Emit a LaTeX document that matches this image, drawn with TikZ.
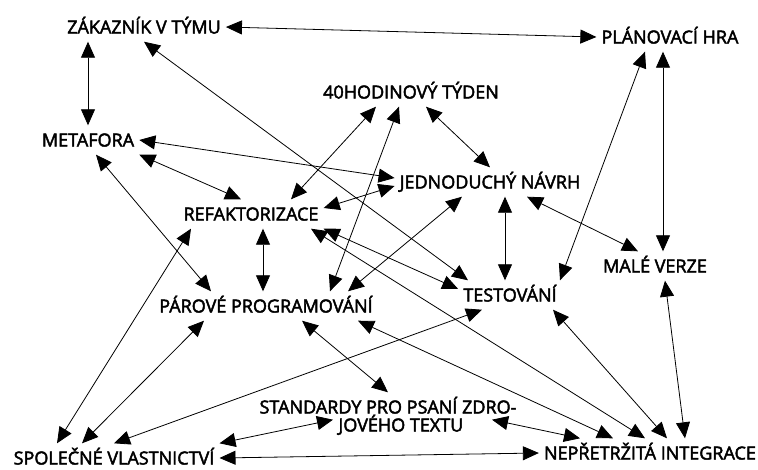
\documentclass[tikz,border=0pt]{standalone}
\usepackage{fontspec}
\setmainfont{Open Sans}[FakeBold=2.5]
\usetikzlibrary{arrows.meta}
\tikzset{ c/.style = { rectangle
                     , inner xsep   = 5pt
                     , inner ysep   = 8pt
                     , text height  = 13pt
                     , text depth   = 0pt
                     , font = \fontsize{18}{18}\selectfont
                     },
          a/.style = { <->
                     , >={Triangle[length=16pt, width=14pt]}
                     , line width = 0.8pt
                     }
        }
\begin{document}
\begin{tikzpicture}[x=1pt, y=-1pt]
            \useasboundingbox (0,0) rectangle (758,469);
            \node[c] (zak)   at (144,27)  {ZÁKAZNÍK V TÝMU};
            \node[c] (plan)  at (670,37)  {PLÁNOVACÍ HRA};
            \node[c] (hod)   at (411,92)  {40HODINOVÝ TÝDEN};
            \node[c] (meta)  at (88,140)  {METAFORA};
            \node[c] (jedn)  at (490,182) {JEDNODUCHÝ NÁVRH};
            \node[c] (refak) at (251,214) {REFAKTORIZACE};
            \node[c] (male)  at (655,266) {MALÉ VERZE};
            \node[c] (test)  at (510,295) {TESTOVÁNÍ};
            \node[c] (par)   at (266,306) {PÁROVÉ PROGRAMOVÁNÍ};
            \node[c, align=left, text height=31pt] (std) at (388,416) {STANDARDY PRO PSANÍ ZDRO-\\\hspace*{79pt}JOVÉHO TEXTU};
            \node[c] (spol)  at (114,458) {SPOLEČNÉ VLASTNICTVÍ};
            \node[c] (nep)   at (650,453) {NEPŘETRŽITÁ INTEGRACE};
            % vazby mezi postupy
            \draw[a] (zak.east) -- (plan.west);
            \draw[a] (zak.south -| meta) -- (meta.north);
            \draw[a] (zak.south) -- ([xshift=-42pt]test.north);
            \draw[a] (meta.east) -- ([yshift=4pt]jedn.west);
            \draw[a] (meta.south east) -- ([xshift=-10pt]refak.north);
            \draw[a] ([xshift=8pt]meta.south) -- ([xshift=-55pt]par.north);
            \draw[a] ([xshift=-35pt]hod.south) -- ([xshift=40pt]refak.north);
            \draw[a] ([xshift=-12pt]hod.south) -- ([xshift=64pt]par.north);
            \draw[a] ([xshift=15pt]hod.south) -- (jedn.north);
            \draw[a] ([yshift=-4pt]jedn.west) -- ([yshift=6pt]refak.east);
            \draw[a] ([xshift=-28pt]jedn.south) -- ([xshift=82pt]par.north);
            \draw[a] ([xshift=15pt]jedn.south) -- ([xshift=-5pt]test.north);
            \draw[a] ([xshift=37pt]jedn.south) -- ([xshift=-17pt]male.north);
            \draw[a] ([xshift=-7pt]plan.south) -- ([xshift=8pt]male.north);
            \draw[a] ([xshift=-25pt]plan.south) -- ([xshift=50pt]test.north);
            \draw[a] (refak.south east) -- ([yshift=6pt]test.west);
            \draw[a] ([xshift=60pt]refak.south) -- ([xshift=-5pt]nep.north);
            \draw[a] ([xshift=12pt]refak.south) -- ([xshift=-3pt]par.north);
            \draw[a] ([xshift=-60pt]refak.south) -- ([xshift=-57pt]spol.north);
            \draw[a] ([xshift=-62pt]par.south) -- ([xshift=-32pt]spol.north);
            \draw[a] ([xshift=-28pt]test.south) -- (spol.north);
            \draw[a] ([xshift=43pt]test.south) -- ([xshift=17pt]nep.north);
            \draw[a] ([xshift=92pt]par.south) -- ([xshift=-37pt]nep.north);
            \draw[a] ([xshift=36pt]par.south) -- (std.north);
            \draw[a] ([xshift=10pt]male.south) -- ([xshift=35pt]nep.north);
            \draw[a] (spol.north east) -- ([shift={(-55pt,20pt)}]std.south);
            \draw[a] (spol.east) -- (nep.west);
            \draw[a] ([shift={(104pt,20pt)}]std.south) -- ([xshift=-70pt]nep.north);
\end{tikzpicture}
\end{document}
